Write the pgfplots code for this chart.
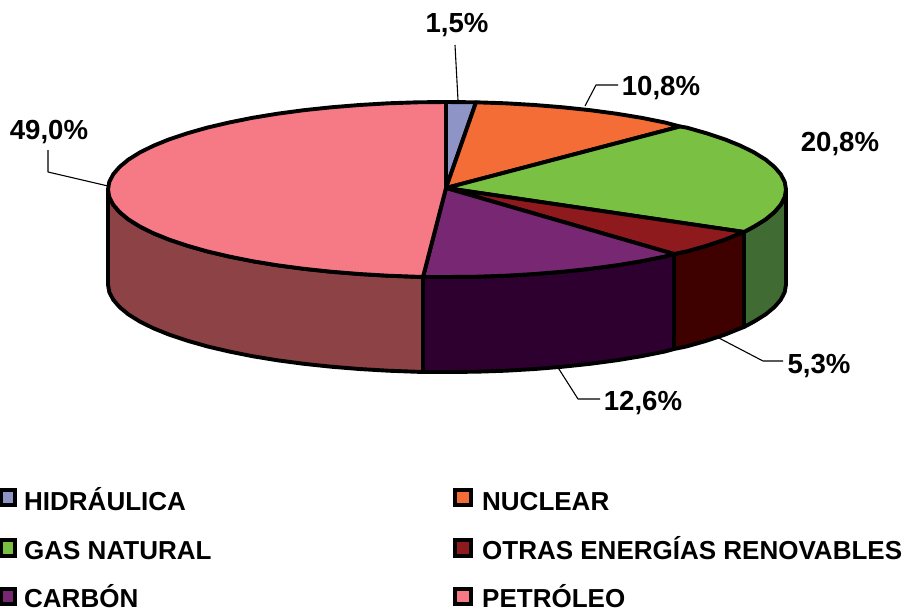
\documentclass[border=0pt]{standalone}
\usepackage{pgfplots}
\pgfplotsset{compat=1.18}
\usepackage{fontspec}
\setmainfont{Liberation Sans}
\definecolor{chyd}{HTML}{8F94C6}
\definecolor{cnuc}{HTML}{F46D36}
\definecolor{cgas}{HTML}{7AC143}
\definecolor{cotr}{HTML}{8F1A1E}
\definecolor{ccar}{HTML}{782773}
\definecolor{cpet}{HTML}{F57A85}
\definecolor{wgas}{HTML}{406B32}
\definecolor{wotr}{HTML}{3F0000}
\definecolor{wcar}{HTML}{2E0030}
\definecolor{wpet}{HTML}{8D4246}
\begin{document}
\begin{tikzpicture}[
  lab/.style={font=\fontsize{27.6}{32}\selectfont\bfseries,inner sep=0pt,text=black},
  leg/.style={font=\fontsize{26}{32}\selectfont\bfseries,inner sep=0pt,anchor=base west,text=black}]
\begin{axis}[
  name=pie,
  scale only axis, width=906pt, height=614pt,
  xmin=0, xmax=906, ymin=0, ymax=614, y dir=reverse,
  axis lines=none, clip=false, ticks=none,
  every axis plot/.append style={no markers, line join=round, line width=3.9pt, draw=black, sharp plot}]
% side walls
\addplot[fill=wgas] coordinates {(786,189.5)(784.7,197.1)(780.8,204.7)(774.4,212.1)(765.6,219.4)(754.2,226.5)(744,232)(744,327)(754.2,321.5)(765.6,314.4)(774.4,307.1)(780.8,299.7)(784.7,292.1)(786,284.5)} -- cycle;
\addplot[fill=wotr] coordinates {(744,232)(740.6,233.25)(724.7,239.7)(706.7,245.7)(686.7,251.4)(674,254)(674,349)(686.7,346.4)(706.7,340.7)(724.7,334.7)(740.6,328.25)(744,327)} -- cycle;
\addplot[fill=wcar] coordinates {(674,254)(664.9,256.5)(641.5,261.2)(616.5,265.3)(590.3,268.8)(562.9,271.7)(534.7,274)(505.9,275.7)(476.6,276.7)(447,277)(423,277)(423,372)(447,372)(476.6,371.7)(505.9,370.7)(534.7,369)(562.9,366.7)(590.3,363.8)(616.5,360.3)(641.5,356.2)(664.9,351.5)(674,349)} -- cycle;
\addplot[fill=wpet] coordinates {(423,277)(388.1,275.7)(359.3,274)(331.1,271.7)(303.7,268.8)(277.5,265.3)(252.5,261.2)(229.1,256.5)(207.3,251.4)(187.3,245.7)(169.3,239.7)(153.4,233.25)(139.8,226.5)(128.4,219.4)(119.6,212.1)(113.2,204.7)(109.3,197.1)(108,189.5)(108,284.5)(109.3,292.1)(113.2,299.7)(119.6,307.1)(128.4,314.4)(139.8,321.5)(153.4,328.25)(169.3,334.7)(187.3,340.7)(207.3,346.4)(229.1,351.5)(252.5,356.2)(277.5,360.3)(303.7,363.8)(331.1,366.7)(359.3,369)(388.1,370.7)(423,372)} -- cycle;
% top face
\addplot[fill=chyd] coordinates {(446,188)(446,102)(476,102.3)} -- cycle;
\addplot[fill=cnuc] coordinates {(446,188)(476,102.3)(505.9,103.3)(534.7,105)(562.9,107.3)(590.3,110.2)(616.5,113.7)(641.5,117.8)(664.9,122.5)(680,126.5)} -- cycle;
\addplot[fill=cgas] coordinates {(446,188)(680,126.5)(686.7,127.6)(706.7,133.3)(724.7,139.3)(740.6,145.75)(754.2,152.5)(765.6,159.6)(774.4,166.9)(780.8,174.3)(784.7,181.9)(786,189.5)(784.7,197.1)(780.8,204.7)(774.4,212.1)(765.6,219.4)(754.2,226.5)(744,232)} -- cycle;
\addplot[fill=cotr] coordinates {(446,188)(744,232)(740.6,233.25)(724.7,239.7)(706.7,245.7)(686.7,251.4)(674,254)} -- cycle;
\addplot[fill=ccar] coordinates {(446,188)(674,254)(664.9,256.5)(641.5,261.2)(616.5,265.3)(590.3,268.8)(562.9,271.7)(534.7,274)(505.9,275.7)(476.6,276.7)(447,277)(423,277)} -- cycle;
\addplot[fill=cpet] coordinates {(446,188)(423,277)(388.1,275.7)(359.3,274)(331.1,271.7)(303.7,268.8)(277.5,265.3)(252.5,261.2)(229.1,256.5)(207.3,251.4)(187.3,245.7)(169.3,239.7)(153.4,233.25)(139.8,226.5)(128.4,219.4)(119.6,212.1)(113.2,204.7)(109.3,197.1)(108,189.5)(109.3,181.9)(113.2,174.3)(119.6,166.9)(128.4,159.6)(139.8,152.5)(153.4,145.75)(169.3,139.3)(187.3,133.3)(207.3,127.6)(229.1,122.5)(252.5,117.8)(277.5,113.7)(303.7,110.2)(331.1,107.3)(359.3,105)(388.1,103.3)(417.4,102.3)(446,102)} -- cycle;
% leader lines
\addplot[line width=1.1pt] coordinates {(455,45)(458,100)};
\addplot[line width=1.1pt] coordinates {(618,85)(596,85)(585,106)};
\addplot[line width=1.1pt] coordinates {(783,361)(763,361)(717,337)};
\addplot[line width=1.1pt] coordinates {(600,399)(578,399)(557,366)};
\addplot[line width=1.1pt] coordinates {(48,150)(48,172)(108,186)};
% data labels
\node[lab] at (axis cs:457,25) {1,5\%};
\node[lab] at (axis cs:661,88) {10,8\%};
\node[lab] at (axis cs:840,144) {20,8\%};
\node[lab] at (axis cs:819,366) {5,3\%};
\node[lab] at (axis cs:643,403) {12,6\%};
\node[lab] at (axis cs:49,132) {49,0\%};
% legend
\addplot[fill=chyd,line width=3.2pt,line join=miter] coordinates {(1.5,490)(15,490)(15,505)(1.5,505)} -- cycle;
\addplot[fill=cgas,line width=3.2pt,line join=miter] coordinates {(1.5,540)(15,540)(15,556)(1.5,556)} -- cycle;
\addplot[fill=ccar,line width=3.2pt,line join=miter] coordinates {(1.5,589)(15,589)(15,604)(1.5,604)} -- cycle;
\addplot[fill=cnuc,line width=3.2pt,line join=miter] coordinates {(455,490)(471,490)(471,505)(455,505)} -- cycle;
\addplot[fill=cotr,line width=3.2pt,line join=miter] coordinates {(455,540)(471,540)(471,556)(455,556)} -- cycle;
\addplot[fill=cpet,line width=3.2pt,line join=miter] coordinates {(455,589)(471,589)(471,604)(455,604)} -- cycle;
\node[leg] at (axis cs:24,510) {HIDRÁULICA};
\node[leg] at (axis cs:24,559) {GAS NATURAL};
\node[leg] at (axis cs:24,607) {CARBÓN};
\node[leg] at (axis cs:482,510) {NUCLEAR};
\node[leg] at (axis cs:482,559) {OTRAS ENERGÍAS RENOVABLES};
\node[leg] at (axis cs:482,607) {PETRÓLEO};
\end{axis}
\pgfresetboundingbox
\path[use as bounding box] (pie.south west) rectangle (pie.north east);
\end{tikzpicture}
\end{document}
